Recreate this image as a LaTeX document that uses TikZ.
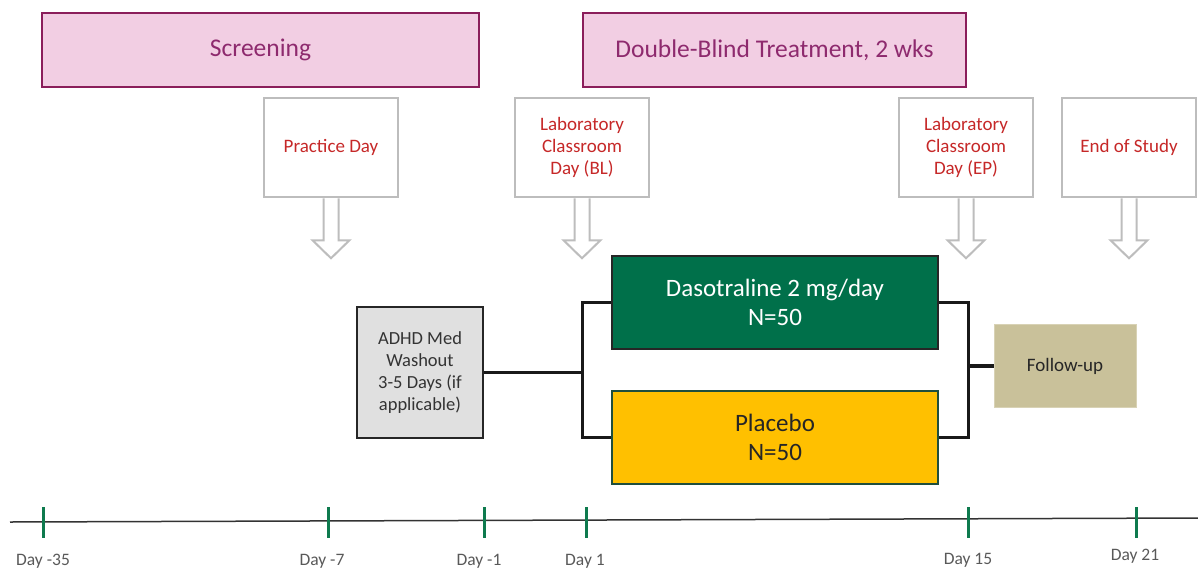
\documentclass[tikz,border=0pt]{standalone}
\usepackage{fontspec}
\setmainfont{Carlito}
\usepackage{tikz}
\usetikzlibrary{positioning}
\definecolor{PhaseLine}{HTML}{8B1E5B}
\definecolor{PhaseFill}{HTML}{F2CEE3}
\definecolor{PhaseInk}{HTML}{8E2A6E}
\definecolor{CallLine}{HTML}{BDBDBD}
\definecolor{CallInk}{HTML}{C62828}
\definecolor{DasoFill}{HTML}{00704A}
\definecolor{PlacFill}{HTML}{FFC000}
\definecolor{PlacLine}{HTML}{1F4E3D}
\definecolor{WashFill}{HTML}{E0E0E0}
\definecolor{FuFill}{HTML}{C9C19A}
\definecolor{FuLine}{HTML}{D8D2B5}
\definecolor{TickGreen}{HTML}{0E7A4E}
\definecolor{DayInk}{HTML}{595959}
\tikzset{
  phase/.style={draw=PhaseLine,line width=2.5pt,fill=PhaseFill,text=PhaseInk,minimum height=74pt,font=\fontsize{25.5}{30}\selectfont},
  callout/.style={draw=CallLine,line width=2.5pt,fill=white,text=CallInk,minimum width=134pt,minimum height=99pt,align=center,font=\fontsize{19}{22}\selectfont},
  arm/.style={line width=2pt,minimum width=326pt,minimum height=93pt,align=center,font=\fontsize{25}{29}\selectfont},
  washbox/.style={draw=black!85,line width=2pt,fill=WashFill,minimum width=126pt,minimum height=131pt,align=center,font=\fontsize{18.5}{22}\selectfont,text=black!80},
  fubox/.style={draw=FuLine,line width=1pt,fill=FuFill,minimum width=142pt,minimum height=83pt,font=\fontsize{19}{22}\selectfont,text=black!85},
  hollow/.style={draw=CallLine,line width=2pt,fill=white,line join=miter},
  link/.style={draw=black!90,line width=3pt},
  tick/.style={draw=TickGreen,line width=3pt},
  daylabel/.style={text=DayInk,font=\fontsize{17.5}{20}\selectfont,inner sep=1pt}
}
\begin{document}
\begin{tikzpicture}[x=1pt,y=-1pt]
\useasboundingbox (0,0) rectangle (1198,573);
% phases
\node[phase,minimum width=437pt] (scr) at (260.5,50) {Screening};
\node[phase,minimum width=383pt] (dbt) at (774.5,50) {Double-Blind Treatment, 2 wks};
% visit call-outs
\node[callout] (pd) at (331,147.5) {Practice Day};
\node[callout] (bl) at (582,147.5) {Laboratory\\Classroom\\Day (BL)};
\node[callout] (ep) at (966,147.5) {Laboratory\\Classroom\\Day (EP)};
\node[callout] (eos) at (1129,147.5) {End of Study};
\foreach \b in {pd,bl,ep,eos}
  \draw[hollow] (\b.south) ++(-7.5,0) -- ++(0,42) -- ++(-11,0) -- ++(18.5,18) -- ++(18.5,-18) -- ++(-11,0) -- ++(0,-42);
% treatment arms
\node[washbox] (wash) at (420,372.5) {ADHD Med\\Washout\\3-5 Days (if\\applicable)};
\node[arm,draw=black!85,fill=DasoFill,text=white] (daso) at (775,302.5) {Dasotraline 2 mg/day\\N=50};
\node[arm,draw=PlacLine,fill=PlacFill,text=black!85] (plac) at (775,437) {Placebo\\N=50};
\node[fubox] (fu) at (1065,366) {Follow-up};
\coordinate (jl) at (582,372.5);
\coordinate (jr) at (968,366);
\draw[link] (wash.east) -- (jl);
\draw[link] (daso.west) -| (jl) |- (plac.west);
\draw[link] (daso.east) -| (jr) |- (plac.east);
\draw[link,line width=4pt] (jr) -- (fu.west);
% timeline
\draw[draw=black!80,line width=1.5pt] (10,522) -- (1198,518);
\foreach \x/\lx/\ly/\lab [count=\i] in {43/43/561/Day -35,328/322/561/Day -7,484/479/561/Day -1,586/585/561/Day 1,968/968/560/Day 15,1136/1135/556/Day 21} {
  \draw[tick] (\x,507) -- (\x,538);
  \node[daylabel] (day\i) at (\lx,\ly) {\lab};
}
\end{tikzpicture}
\end{document}
